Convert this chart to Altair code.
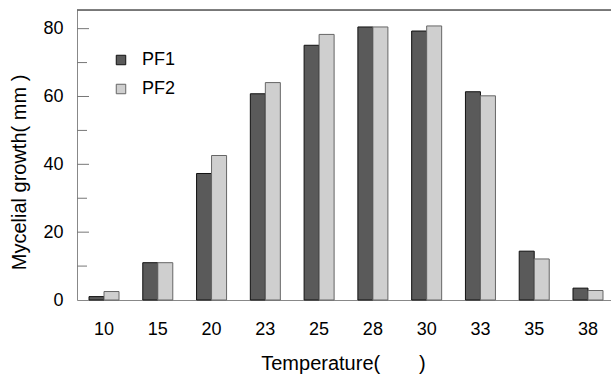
import altair as alt
import pandas as pd

temps = ["10", "15", "20", "23", "25", "28", "30", "33", "35", "38"]
pf1 = [1.0, 11.0, 37.3, 60.8, 75.1, 80.5, 79.3, 61.4, 14.4, 3.5]
pf2 = [2.5, 11.0, 42.6, 64.1, 78.3, 80.5, 80.8, 60.2, 12.1, 2.8]
series = ["PF1", "PF2"]
major_ticks = [0, 20, 40, 60, 80]
minor_ticks = [10, 30, 50, 70]

rows = []
for t, a, b in zip(temps, pf1, pf2):
    rows.append({"temp": t, "series": "PF1", "value": a})
    rows.append({"temp": t, "series": "PF2", "value": b})
df = pd.DataFrame(rows)

W, H = 534, 290
FONT = "Liberation Sans"
ymax = 85.5

yscale = alt.Scale(domain=[0, ymax], nice=False, zero=True)
yaxis = alt.Axis(
    title="Mycelial growth(\u00a0mm\u00a0)",
    values=major_ticks,
    ticks=False,
    grid=False,
    labelPadding=14,
    labelFontSize=18,
    titleFontSize=20,
    titleFontWeight="normal",
    titleBaseline="alphabetic",
    titleX=-52,
    titleY=162,
)

bars = alt.Chart(df).mark_bar(strokeWidth=1).encode(
    x=alt.X(
        "temp:N",
        sort=temps,
        scale=alt.Scale(paddingInner=0.442, paddingOuter=0.186, align=0.6),
        axis=alt.Axis(
            title="Temperature(\u00a0\u00a0\u00a0\u00a0\u00a0\u00a0\u00a0)",
            labelAngle=0,
            ticks=False,
            labelPadding=20,
            labelFontSize=18,
            titleFontSize=20,
            titleFontWeight="normal",
            titleBaseline="alphabetic",
            titleY=69,
            titleX=266,
        ),
    ),
    xOffset=alt.XOffset("series:N", sort=series, scale=alt.Scale(paddingInner=0, paddingOuter=0)),
    y=alt.Y("value:Q", scale=yscale, axis=yaxis),
    fill=alt.Fill(
        "series:N",
        sort=series,
        scale=alt.Scale(domain=series, range=["#5a5a5a", "#cfcfcf"]),
        legend=alt.Legend(
            title=None,
            orient="none",
            legendX=35,
            legendY=41,
            symbolType="square",
            symbolSize=90,
            symbolStrokeColor="#222",
            symbolStrokeWidth=1,
            labelFontSize=18,
            labelOffset=12,
            rowPadding=11,
            padding=0,
        ),
    ),
    stroke=alt.Stroke(
        "series:N",
        sort=series,
        scale=alt.Scale(domain=series, range=["#111111", "#666666"]),
        legend=None,
    ),
)

major = alt.Chart(pd.DataFrame({"value": major_ticks[1:]})).mark_rule(color="#777777", strokeWidth=1).encode(
    y=alt.Y("value:Q", scale=yscale, axis=yaxis),
    x=alt.value(0),
    x2=alt.value(12),
)

minor = alt.Chart(pd.DataFrame({"value": minor_ticks})).mark_rule(color="#777777", strokeWidth=1).encode(
    y=alt.Y("value:Q", scale=yscale, axis=yaxis),
    x=alt.value(0),
    x2=alt.value(10),
)

top_border = alt.Chart(alt.Data(values=[{"a": 1}])).mark_rule(color="#555555", strokeWidth=1.5).encode(
    y=alt.value(0),
    x=alt.value(0),
    x2=alt.value(W),
)

chart = alt.layer(bars, major, minor, top_border).properties(
    width=W,
    height=H,
    autosize=alt.AutoSizeParams(type="none"),
    padding={"left": 77, "top": 10, "right": 0, "bottom": 80},
).configure_view(stroke=None).configure_axis(
    domainColor="#444444",
    domainWidth=1.5,
    labelFont=FONT,
    titleFont=FONT,
    labelColor="#222222",
    titleColor="#222222",
).configure_legend(
    labelFont=FONT,
    labelColor="#222222",
).configure(background="white")

chart.save("out.html", embed_options={"renderer": "svg", "actions": False})
